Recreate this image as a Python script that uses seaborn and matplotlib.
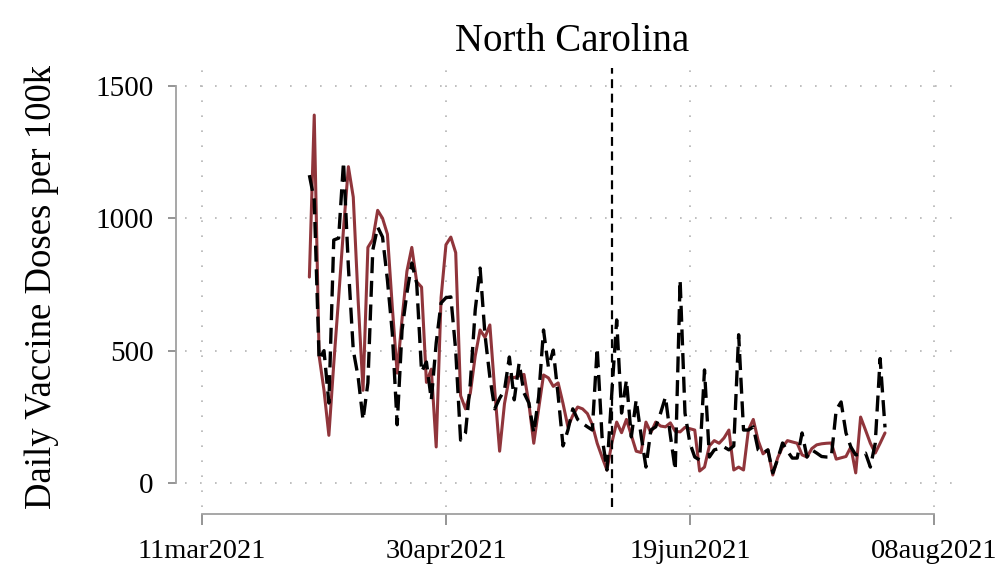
import pandas as pd
import numpy as np
import matplotlib
matplotlib.use("Agg")
import matplotlib.pyplot as plt
import seaborn as sns

# daily values, 02apr2021 - 29jul2021
dates = pd.date_range("2021-04-02", periods=119, freq="D")

doses_red = [778, 1390, 480, 350, 180, 450, 700, 960, 1195, 1080,
             690, 350, 890, 920, 1030, 1000, 940, 665, 415, 620,
             800, 890, 760, 740, 380, 430, 136, 700, 900, 929,
             870, 330, 280, 340, 480, 578, 550, 597, 350, 120,
             300, 400, 398, 405, 410, 300, 150, 280, 408, 397,
             365, 378, 300, 212, 255, 287, 280, 262, 220, 150,
             98, 49, 151, 230, 190, 240, 180, 120, 115, 230,
             190, 230, 215, 212, 227, 195, 193, 210, 205, 200,
             45, 60, 140, 160, 150, 170, 200, 49, 60, 49,
             200, 240, 160, 110, 125, 30, 95, 136, 160, 155,
             150, 106, 98, 130, 144, 148, 150, 151, 90, 95,
             100, 136, 38, 249, 200, 150, 113, 150, 189]

doses_black = [1163, 1069, 465, 500, 302, 918, 925, 1213, 816, 502,
               400, 238, 378, 880, 967, 929, 767, 567, 220, 578,
               718, 831, 755, 420, 457, 314, 529, 680, 700, 703,
               500, 162, 189, 378, 654, 812, 560, 400, 280, 320,
               351, 476, 314, 453, 340, 302, 189, 325, 578, 438,
               502, 330, 140, 200, 280, 240, 225, 212, 200, 510,
               174, 49, 340, 616, 264, 389, 174, 314, 180, 60,
               200, 212, 264, 325, 180, 49, 767, 264, 151, 98,
               87, 427, 98, 125, 130, 136, 125, 140, 560, 200,
               200, 212, 125, 113, 125, 38, 90, 151, 120, 94,
               94, 189, 98, 125, 113, 100, 98, 98, 276, 306,
               189, 136, 106, 110, 113, 60, 150, 470, 210]

event_date = pd.Timestamp("2021-06-03")
xtick_dates = pd.to_datetime(["2021-03-11", "2021-04-30", "2021-06-19", "2021-08-08"])
xtick_labels = ["11mar2021", "30apr2021", "19jun2021", "08aug2021"]
ytick_vals = [0, 500, 1000, 1500]

df = pd.DataFrame({"date": dates, "red": doses_red, "black": doses_black})

sns.set_theme(style="white")
plt.rcParams["font.family"] = ["Liberation Serif", "DejaVu Serif"]
plt.rcParams["text.color"] = "black"

fig = plt.figure(figsize=(10.08, 5.71), dpi=100)
ax = fig.add_axes([0.1835, 0.112, 0.769, 0.769])

red = "#90353B"
sns.lineplot(data=df, x="date", y="red", color=red, lw=2.2, ax=ax)
sns.lineplot(data=df, x="date", y="black", color="black", lw=2.4,
             linestyle=(0, (4.8, 2.3)), ax=ax)
ax.axvline(event_date, color="black", lw=1.6, linestyle=(0, (4, 2.5)), zorder=5)

ax.set_xlim(pd.Timestamp("2021-03-11") - pd.Timedelta(days=3.5),
            pd.Timestamp("2021-03-11") + pd.Timedelta(days=155.4))
ax.set_ylim(-91, 1568)
ax.set_xticks(xtick_dates)
ax.set_xticklabels(xtick_labels)
ax.set_yticks(ytick_vals)
ax.set_yticklabels([str(v) for v in ytick_vals])

ax.grid(True, color="#b4b4b4", linestyle=(0, (1, 8)), lw=1.2)
ax.tick_params(axis="both", colors="#8c8c8c", labelcolor="black", width=1.3,
               bottom=True, left=True)
ax.tick_params(axis="y", length=6, pad=10, labelsize=21)
ax.tick_params(axis="x", length=8, pad=10, labelsize=20.5)
ax.set_xlabel("")
ax.set_ylabel("Daily Vaccine Doses per 100k", fontsize=26.5, labelpad=26, color="black")
ax.set_title("North Carolina", fontsize=28, pad=12, color="black")

sns.despine(ax=ax, offset={"left": 6.5, "bottom": 5}, trim=True)
for s in ["left", "bottom"]:
    ax.spines[s].set_color("#a0a0a0")
    ax.spines[s].set_linewidth(1.3)

fig.savefig("out.png", dpi=100)
